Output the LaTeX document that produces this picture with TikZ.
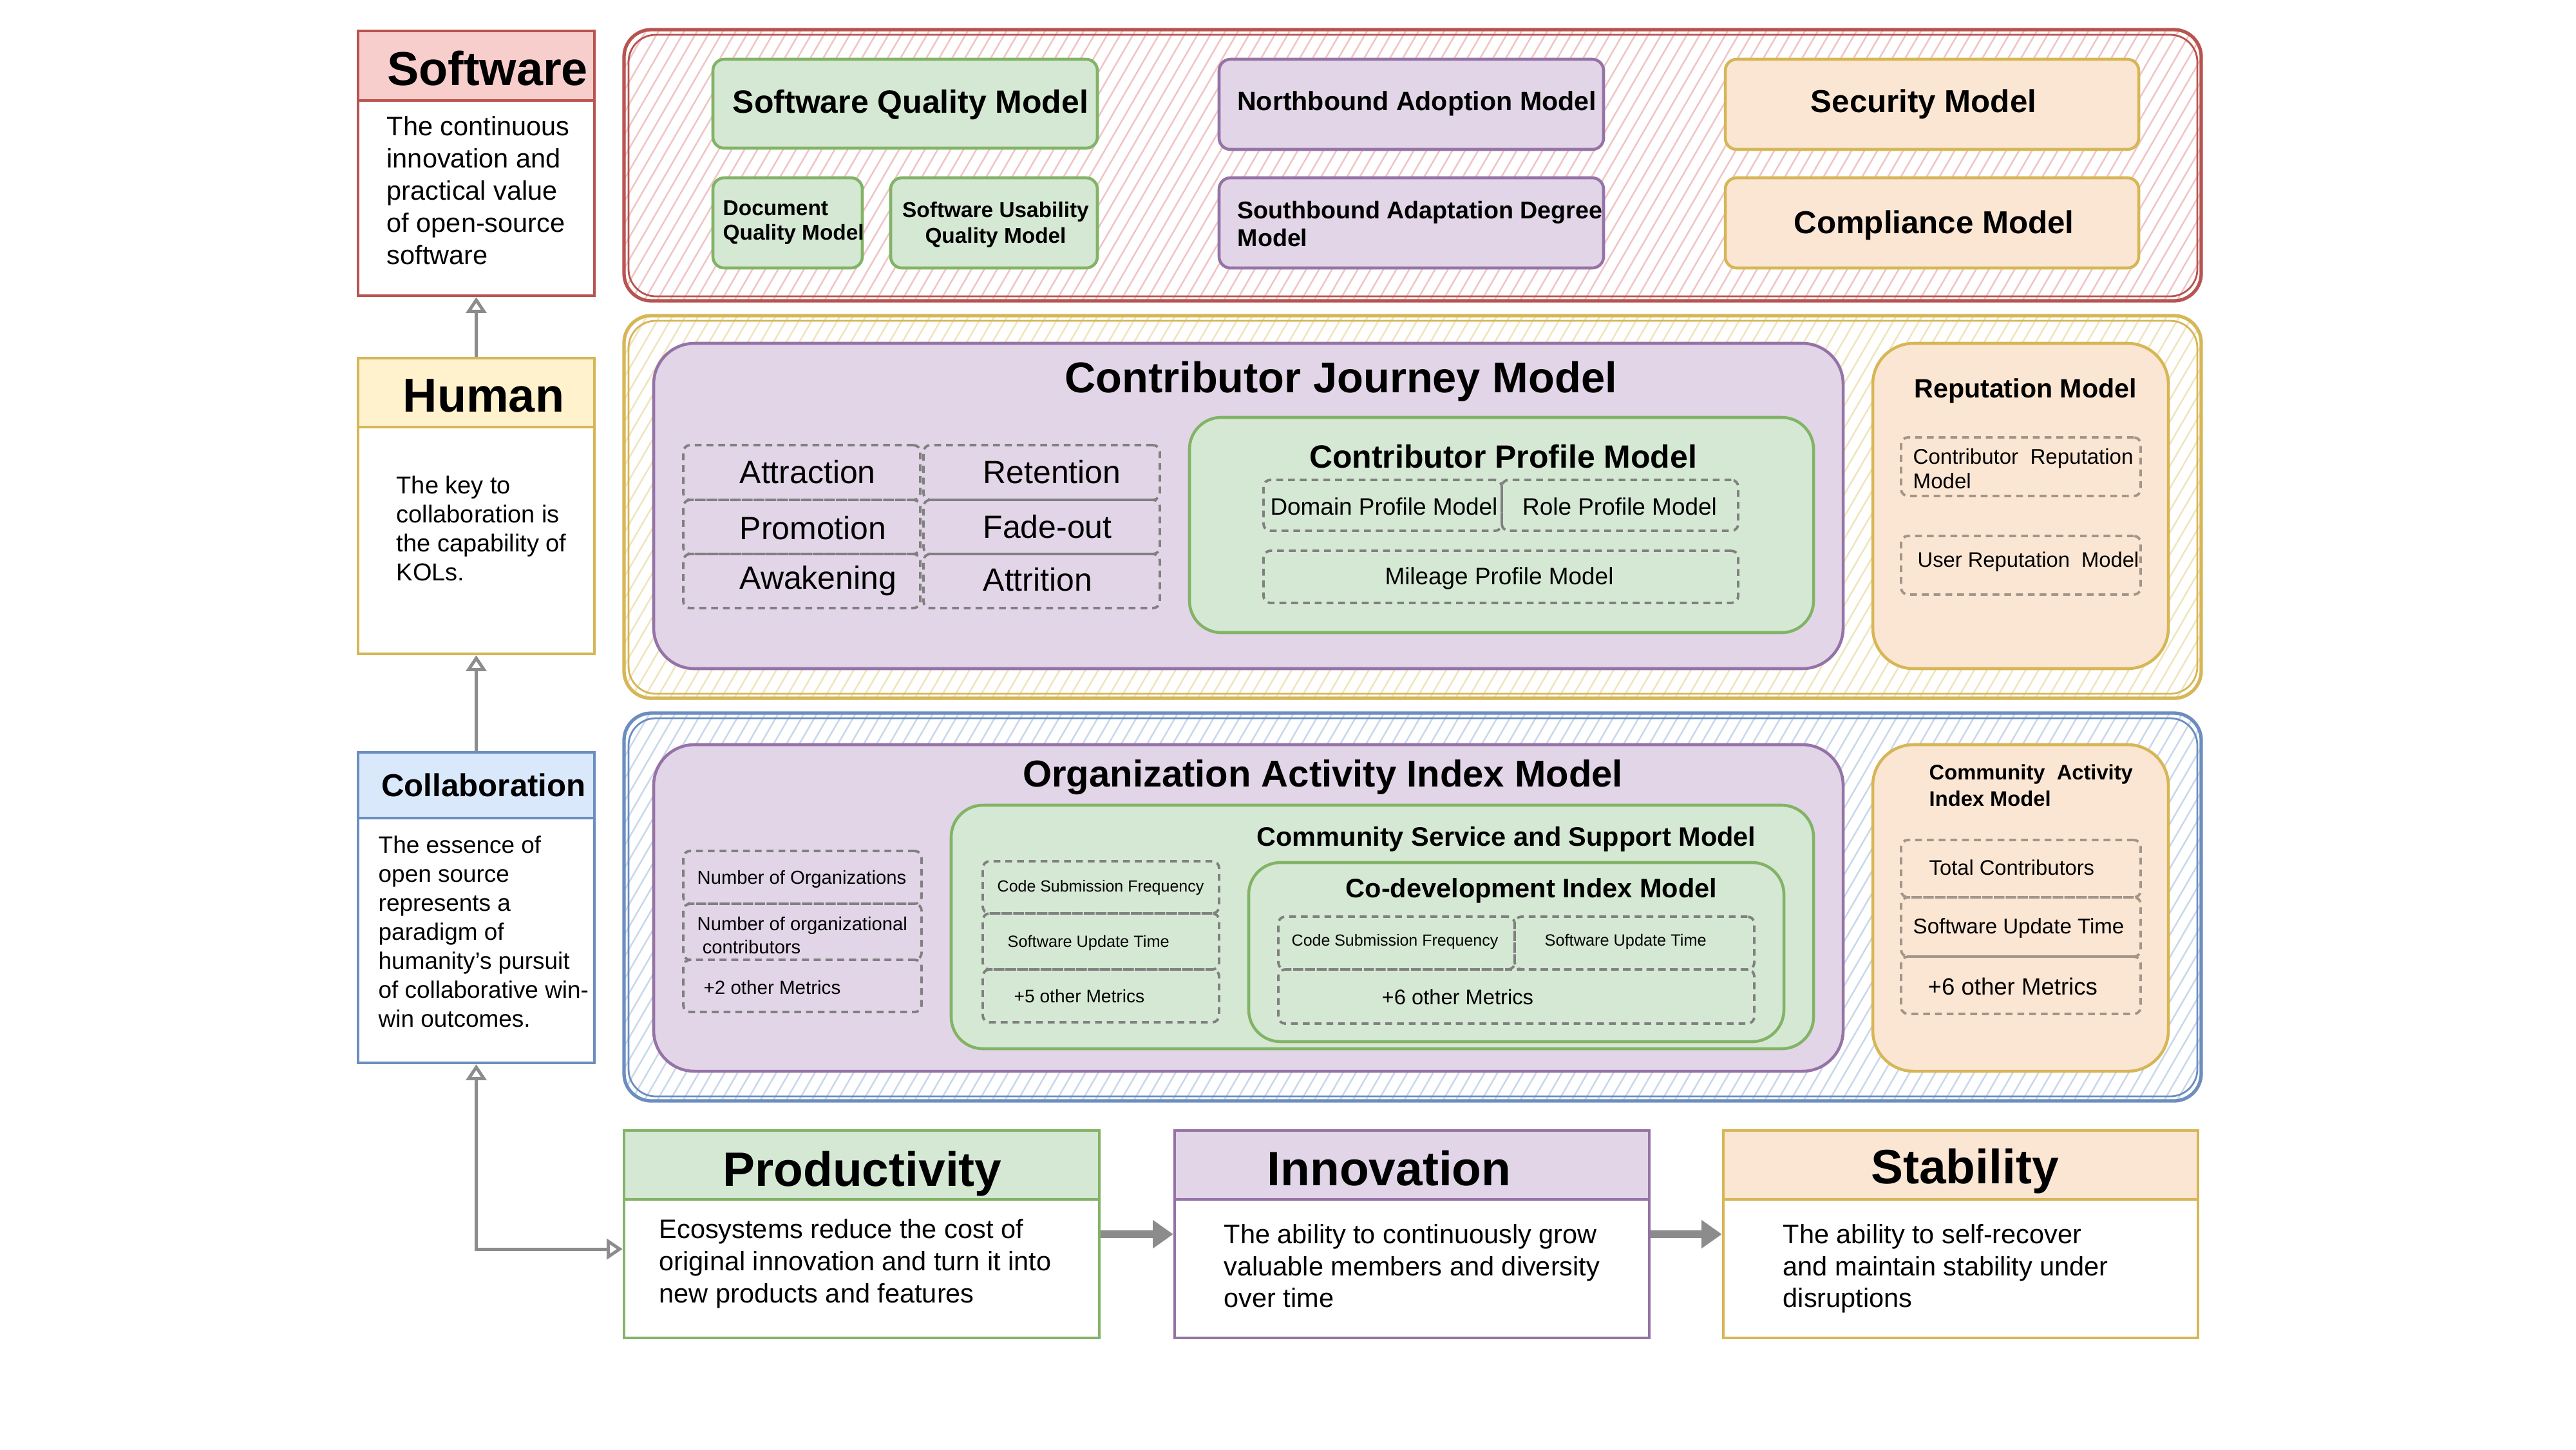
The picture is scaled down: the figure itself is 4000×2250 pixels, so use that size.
\documentclass[tikz,border=0pt]{standalone}
\usepackage{fontspec}
\setmainfont{Liberation Sans}
\usetikzlibrary{fit,arrows.meta,calc}
\definecolor{gfill}{HTML}{D5E8D4}\definecolor{gstroke}{HTML}{82B366}
\definecolor{pfill}{HTML}{E1D5E7}\definecolor{pstroke}{HTML}{9673A6}
\definecolor{ofill}{HTML}{FBE6D3}\definecolor{ostroke}{HTML}{D6B656}
\definecolor{rfill}{HTML}{F8CECC}\definecolor{rstroke}{HTML}{B85450}
\definecolor{yfill}{HTML}{FFF2CC}\definecolor{ystroke}{HTML}{D6B656}
\definecolor{bfill}{HTML}{DAE8FC}\definecolor{bstroke}{HTML}{6C8EBF}
\definecolor{rhatch}{HTML}{F0C4C4}\definecolor{yhatch}{HTML}{EFE4BC}\definecolor{bhatch}{HTML}{C8D7EC}
\definecolor{dashg}{HTML}{808080}\definecolor{dasho}{HTML}{A39588}
\definecolor{arrc}{HTML}{8C8C8C}
\newcommand\fs[2]{\fontsize{#1}{#2}\selectfont}
\begin{document}
\begin{tikzpicture}[x=0.01cm,y=-0.01cm,
  sbox/.style={draw, line width=1.3pt, inner sep=0pt},
  gbox/.style={sbox, draw=gstroke, fill=gfill},
  pbox/.style={sbox, draw=pstroke, fill=pfill},
  obox/.style={sbox, draw=ostroke, fill=ofill},
  band/.style={draw, line width=1.5pt, rounded corners=12pt, inner sep=0pt},
  dbox/.style={draw=dashg, line width=1.1pt, dash pattern=on 3pt off 2.2pt, rounded corners=3pt, inner sep=0pt},
  dboxo/.style={dbox, draw=dasho},
  txt/.style={inner sep=0pt, align=left},
  arr/.style={draw=arrc, line width=1.4pt, -{Triangle[open, length=7pt, width=9pt]}},
  arrtwo/.style={draw=arrc, line width=1.4pt, {Triangle[open, length=7pt, width=9pt]}-{Triangle[open, length=7pt, width=9pt]}},
  fat/.style={draw=arrc, line width=3.5pt, -{Triangle[length=9pt, width=12pt]}},
]
\useasboundingbox (0,0) rectangle (4000,2250);
\fill[white] (0,0) rectangle (4000,2250);

% ---------- hatched bands ----------
\begin{scope}
\clip[rounded corners=12pt] (969,46) rectangle (3418,467);
\foreach \k in {620,640,...,3420} \draw[rhatch, line width=0.7pt] (\k,467) -- ({\k+244},46);
\end{scope}
\begin{scope}
\clip[rounded corners=12pt] (969,490) rectangle (3418,1084);
\foreach \k in {620,640,...,3420} \draw[yhatch, line width=0.7pt] (\k,1084) -- ({\k+345},490);
\end{scope}
\begin{scope}
\clip[rounded corners=12pt] (969,1107) rectangle (3418,1709);
\foreach \k in {620,640,...,3420} \draw[bhatch, line width=0.7pt] (\k,1709) -- ({\k+349},1107);
\end{scope}
\node[band, draw=rstroke, fit={(969,46)(3418,467)}] (redband) {};
\draw[rstroke, line width=0.8pt, rounded corners=12pt] (976,54) rectangle (3412,460);
\node[band, draw=ystroke, fit={(969,490)(3418,1084)}] (yelband) {};
\draw[ystroke, line width=0.8pt, rounded corners=12pt] (976,498) rectangle (3412,1077);
\node[band, draw=bstroke, fit={(969,1107)(3418,1709)}] (bluband) {};
\draw[bstroke, line width=0.8pt, rounded corners=12pt] (976,1115) rectangle (3412,1702);

% ---------- left column ----------
\node[sbox, draw=rstroke, fill=white, fit={(556,48)(923,459)}] (swbox) {};
\node[sbox, draw=rstroke, fill=rfill, fit={(556,48)(923,156)}] (swhead) {};
\node[txt, font=\bfseries\fs{21}{25}] (swtitle) at (757,106) {Software};
\node[txt, anchor=north west, font=\fs{11.8}{14.2}] (swtext) at (600,180) {The continuous\\innovation and\\practical value\\of open-source\\software};

\node[sbox, draw=ystroke, fill=white, fit={(556,556)(923,1015)}] (hubox) {};
\node[sbox, draw=ystroke, fill=yfill, fit={(556,556)(923,663)}] (huhead) {};
\node[txt, font=\bfseries\fs{21}{25}] (hutitle) at (751,614) {Human};
\node[txt, anchor=north west, font=\fs{10.8}{12.8}] (hutext) at (615,738) {The key to\\collaboration is\\the capability of\\KOLs.};

\node[sbox, draw=bstroke, fill=white, fit={(556,1168)(923,1650)}] (cobox) {};
\node[sbox, draw=bstroke, fill=bfill, fit={(556,1168)(923,1270)}] (cohead) {};
\node[txt, font=\bfseries\fs{14}{17}] (cotitle) at (751,1219) {Collaboration};
\node[txt, anchor=north west, font=\fs{10.5}{12.8}] (cotext) at (587,1297) {The essence of\\open source\\represents a\\paradigm of\\humanity's pursuit\\of collaborative win-\\win outcomes.};

% ---------- top band ----------
\node[gbox, rounded corners=5pt, fit={(1107,92)(1704,230)}] (sqm) {};
\node[txt, font=\bfseries\fs{14.2}{17}] (sqmt) at (1414,163) {Software Quality Model};
\node[gbox, rounded corners=5pt, fit={(1107,276)(1339,416)}] (dqm) {};
\node[txt, anchor=north west, font=\bfseries\fs{9.5}{10.8}] (dqmt) at (1122,311) {Document\\Quality Model};
\node[gbox, rounded corners=5pt, fit={(1383,276)(1704,416)}] (suqm) {};
\node[inner sep=0pt, align=center, font=\bfseries\fs{9.5}{11.4}] (suqmt) at (1546,349) {Software Usability\\Quality Model};
\node[pbox, rounded corners=5pt, fit={(1893,92)(2490,232)}] (nam) {};
\node[txt, font=\bfseries\fs{11.7}{14}] (namt) at (2200,161) {Northbound Adoption Model};
\node[pbox, rounded corners=5pt, fit={(1893,276)(2490,416)}] (sadm) {};
\node[txt, anchor=north west, font=\bfseries\fs{10.7}{12.2}] (sadmt) at (1921,312) {Southbound Adaptation Degree\\Model};
\node[obox, rounded corners=5pt, fit={(2679,92)(3321,232)}] (sec) {};
\node[txt, font=\bfseries\fs{14}{17}] (sect) at (2987,162) {Security Model};
\node[obox, rounded corners=5pt, fit={(2679,276)(3321,416)}] (comp) {};
\node[txt, font=\bfseries\fs{14}{17}] (compt) at (3003,350) {Compliance Model};

% ---------- middle band ----------
\node[pbox, rounded corners=18pt, fit={(1015,533)(2862,1038)}] (cjm) {};
\node[txt, font=\bfseries\fs{19}{22}] (cjmt) at (2082,592) {Contributor Journey Model};
\node[dbox, fit={(1061,691)(1429,776)}] (j11) {};
\node[dbox, fit={(1061,776)(1429,860)}] (j21) {};
\node[dbox, fit={(1061,860)(1429,944)}] (j31) {};
\node[dbox, fit={(1434,691)(1801,776)}] (j12) {};
\node[dbox, fit={(1434,776)(1801,860)}] (j22) {};
\node[dbox, fit={(1434,860)(1801,944)}] (j32) {};
\node[txt, anchor=west, font=\fs{14.2}{17}] (t11) at (1148,733) {Attraction};
\node[txt, anchor=west, font=\fs{14.2}{17}] (t21) at (1148,820) {Promotion};
\node[txt, anchor=west, font=\fs{14.2}{17}] (t31) at (1148,902) {Awakening};
\node[txt, anchor=west, font=\fs{14.2}{17}] (t12) at (1526,733) {Retention};
\node[txt, anchor=west, font=\fs{14.2}{17}] (t22) at (1526,818) {Fade-out};
\node[txt, anchor=west, font=\fs{14.2}{17}] (t32) at (1526,900) {Attrition};

\node[gbox, rounded corners=14pt, fit={(1847,648)(2816,982)}] (cpm) {};
\node[txt, font=\bfseries\fs{14.2}{17}] (cpmt) at (2334,709) {Contributor Profile Model};
\node[dbox, fit={(1962,745)(2332,824)}] (dpm) {};
\node[txt, font=\fs{10.5}{12}] (dpmt) at (2149,786) {Domain Profile Model};
\node[dbox, fit={(2332,745)(2699,824)}] (rpm) {};
\node[txt, font=\fs{10.5}{12}] (rpmt) at (2515,786) {Role Profile Model};
\node[dbox, fit={(1962,855)(2699,936)}] (mpm) {};
\node[txt, font=\fs{10.5}{12}] (mpmt) at (2328,898) {Mileage Profile Model};

\node[obox, rounded corners=18pt, fit={(2908,533)(3367,1038)}] (rep) {};
\node[txt, font=\bfseries\fs{11.7}{14}] (rept) at (3145,607) {Reputation Model};
\node[dboxo, fit={(2952,679)(3324,770)}] (crm) {};
\node[txt, anchor=north west, font=\fs{9.4}{10.8}] (crmt) at (2970,696) {Contributor\ \ Reputation\\Model};
\node[dboxo, fit={(2952,832)(3324,923)}] (urm) {};
\node[txt, anchor=west, font=\fs{9.3}{11}] (urmt) at (2977,872) {User Reputation\ \ Model};

% ---------- bottom band ----------
\node[pbox, rounded corners=18pt, fit={(1015,1156)(2862,1663)}] (oaim) {};
\node[txt, font=\bfseries\fs{16.5}{20}] (oaimt) at (2054,1207) {Organization Activity Index Model};
\node[dbox, fit={(1061,1321)(1431,1403)}] (o1) {};
\node[dbox, fit={(1061,1403)(1431,1490)}] (o2) {};
\node[dbox, fit={(1061,1490)(1431,1571)}] (o3) {};
\node[txt, anchor=west, font=\fs{8.3}{10}] (o1t) at (1082,1365) {Number of Organizations};
\node[txt, anchor=north west, font=\fs{8.3}{10}] (o2t) at (1082,1423) {Number of organizational\\\ contributors};
\node[txt, anchor=west, font=\fs{8.4}{10}] (o3t) at (1092,1533) {+2 other Metrics};

\node[gbox, rounded corners=14pt, fit={(1477,1250)(2816,1628)}] (cssm) {};
\node[txt, font=\bfseries\fs{11.8}{14}] (cssmt) at (2339,1303) {Community Service and Support Model};
\node[dbox, fit={(1526,1337)(1893,1418)}] (c1) {};
\node[dbox, fit={(1526,1418)(1893,1505)}] (c2) {};
\node[dbox, fit={(1526,1505)(1893,1587)}] (c3) {};
\node[txt, anchor=west, font=\fs{7.1}{9}] (c1t) at (1548,1378) {Code Submission Frequency};
\node[txt, anchor=west, font=\fs{7.2}{9}] (c2t) at (1564,1464) {Software Update Time};
\node[txt, anchor=west, font=\fs{8}{10}] (c3t) at (1574,1546) {+5 other Metrics};

\node[gbox, rounded corners=14pt, fit={(1939,1339)(2770,1617)}] (cdim) {};
\node[txt, font=\bfseries\fs{11.8}{14}] (cdimt) at (2378,1383) {Co-development Index Model};
\node[dbox, fit={(1985,1423)(2352,1505)}] (d1) {};
\node[dbox, fit={(2352,1423)(2724,1505)}] (d2) {};
\node[dbox, fit={(1985,1505)(2724,1589)}] (d3) {};
\node[txt, anchor=west, font=\fs{7.1}{9}] (d1t) at (2005,1462) {Code Submission Frequency};
\node[txt, anchor=west, font=\fs{7.2}{9}] (d2t) at (2398,1462) {Software Update Time};
\node[txt, anchor=west, font=\fs{9.3}{11}] (d3t) at (2145,1548) {+6 other\ Metrics};

\node[obox, rounded corners=18pt, fit={(2908,1156)(3367,1663)}] (caim) {};
\node[txt, anchor=north west, font=\bfseries\fs{9.3}{11.7}] (caimt) at (2995,1186) {Community\ \ Activity\\Index Model};
\node[dboxo, fit={(2952,1304)(3324,1393)}] (a1) {};
\node[dboxo, fit={(2952,1393)(3324,1485)}] (a2) {};
\node[dboxo, fit={(2952,1485)(3324,1574)}] (a3) {};
\node[txt, anchor=west, font=\fs{9.3}{11}] (a1t) at (2995,1347) {Total\ Contributors};
\node[txt, anchor=west, font=\fs{9.4}{11}] (a2t) at (2970,1441) {Software\ Update\ Time};
\node[txt, anchor=west, font=\fs{10.4}{12}] (a3t) at (2993,1531) {+6 other Metrics};

% ---------- bottom row ----------
\node[sbox, draw=gstroke, fill=white, fit={(969,1755)(1707,2077)}] (prbox) {};
\node[sbox, draw=gstroke, fill=gfill, fit={(969,1755)(1707,1862)}] (prhead) {};
\node[txt, font=\bfseries\fs{21.3}{25}] (prtitle) at (1339,1822) {Productivity};
\node[txt, anchor=north west, font=\fs{11.8}{14.2}] (prtext) at (1023,1892) {Ecosystems reduce the cost of\\original innovation and turn it into\\new products and features};

\node[sbox, draw=pstroke, fill=white, fit={(1824,1755)(2561,2077)}] (inbox) {};
\node[sbox, draw=pstroke, fill=pfill, fit={(1824,1755)(2561,1862)}] (inhead) {};
\node[txt, font=\bfseries\fs{21.3}{25}] (intitle) at (2157,1814) {Innovation};
\node[txt, anchor=north west, font=\fs{11.8}{14.1}] (intext) at (1900,1900) {The ability to continuously grow\\valuable members and diversity\\over time};

\node[sbox, draw=ostroke, fill=white, fit={(2676,1755)(3413,2077)}] (stbox) {};
\node[sbox, draw=ostroke, fill=ofill, fit={(2676,1755)(3413,1862)}] (sthead) {};
\node[txt, font=\bfseries\fs{21.3}{25}] (sttitle) at (3051,1818) {Stability};
\node[txt, anchor=north west, font=\fs{11.8}{14.1}] (sttext) at (2768,1900) {The ability to self-recover\\and maintain stability under\\disruptions};

% ---------- connectors ----------
\draw[arr] (hubox.north) -- (swbox.south);
\draw[arr] (cobox.north) -- (hubox.south);
\draw[arrtwo] (cobox.south) |- ([yshift=-0.23cm]prbox.west);
\draw[fat] (prbox.east) -- (inbox.west);
\draw[fat] (inbox.east) -- (stbox.west);
\end{tikzpicture}
\end{document}
